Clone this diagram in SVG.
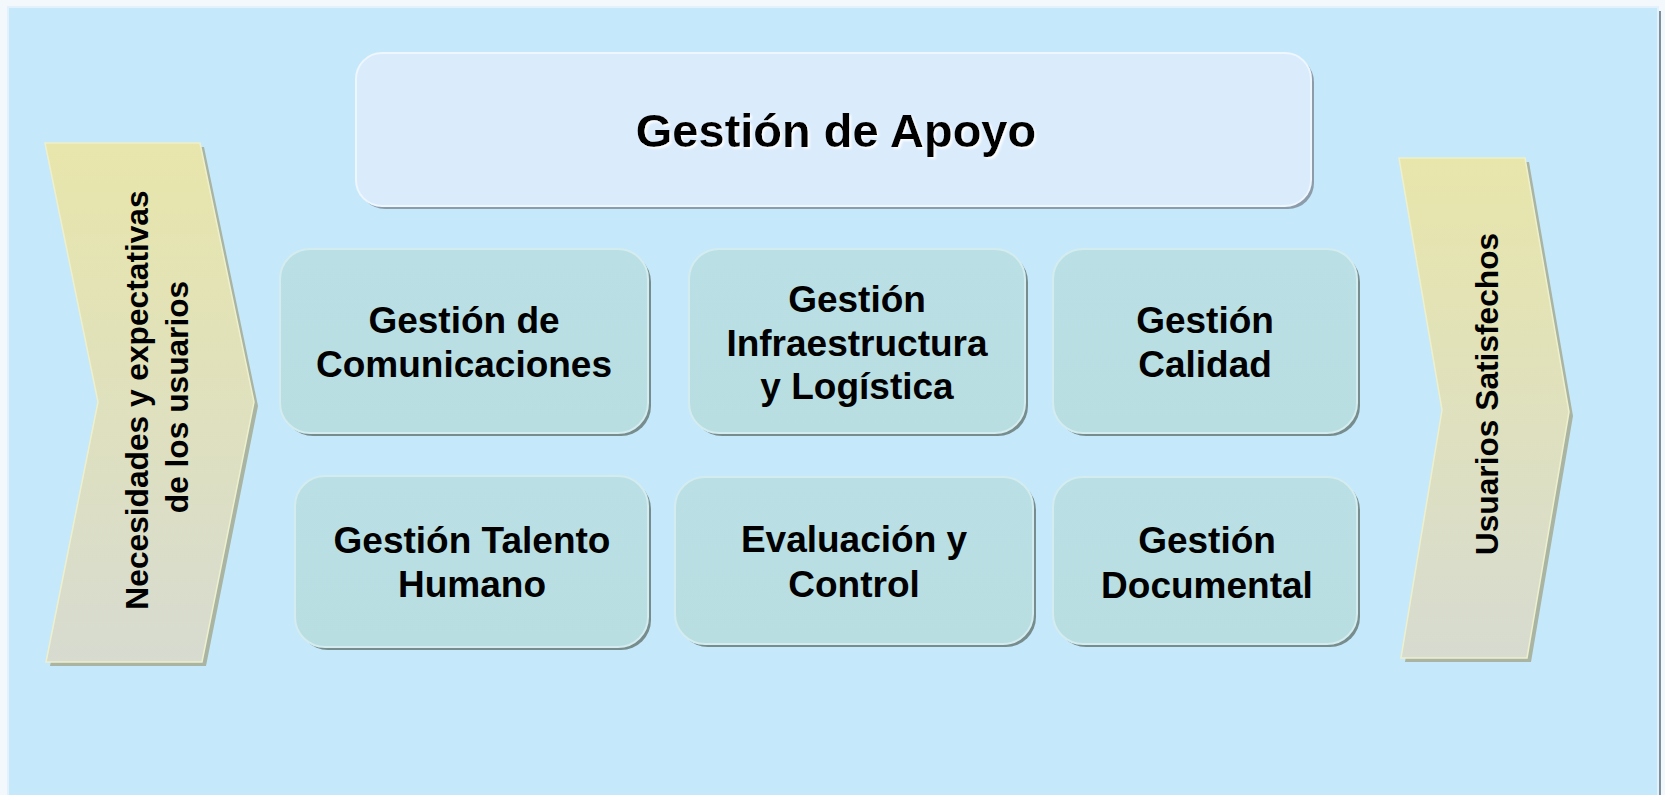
<svg xmlns="http://www.w3.org/2000/svg" width="1665" height="795" viewBox="0 0 1665 795">
<defs>
<linearGradient id="chev" x1="0" y1="0" x2="0" y2="1">
<stop offset="0" stop-color="#e8e6ab"/>
<stop offset="1" stop-color="#d7dbd0"/>
</linearGradient>
<linearGradient id="boxg" x1="0" y1="0" x2="0" y2="1">
<stop offset="0" stop-color="#bae0e5"/>
<stop offset="1" stop-color="#b8dee2"/>
</linearGradient>
<filter id="tshadow" x="-5%" y="-20%" width="110%" height="140%">
<feOffset in="SourceAlpha" dx="2" dy="2" result="o"/>
<feFlood flood-color="#ffffff" flood-opacity="0.9"/>
<feComposite in2="o" operator="in" result="s"/>
<feGaussianBlur in="s" stdDeviation="0.8" result="b"/>
<feMerge><feMergeNode in="b"/><feMergeNode in="SourceGraphic"/></feMerge>
</filter>
</defs>
<style>
text{font-family:"Liberation Sans",Arial,sans-serif;font-weight:bold;fill:#000;text-anchor:middle}
.box{fill:url(#boxg);stroke:#d4ecef;stroke-width:2}
.boxsh{fill:#778c8c}
.lbl{font-size:37px}
.chev{fill:url(#chev);stroke:#eef0cc;stroke-width:1.5}
.chevsh{fill:#a9b4a2}
.side{font-size:31.7px}
</style>
<rect x="0" y="0" width="1665" height="795" fill="#f3f8fd"/>
<rect x="12" y="11" width="1649" height="800" fill="#7c8f9c"/>
<rect x="8" y="7" width="1650" height="800" fill="#c5e8fb" stroke="#e2f1fc" stroke-width="2"/>

<g id="gestion-apoyo">
<rect x="359" y="56" width="955" height="153" rx="26" fill="#8d9cab"/>
<rect x="356" y="53" width="955" height="153" rx="26" fill="#daebfc" stroke="#eef6fe" stroke-width="2"/>
<text x="836" y="147" font-size="47" filter="url(#tshadow)">Gestión de Apoyo</text>
</g>

<g id="necesidades">
<polygon class="chevsh" points="49,147 204,147 258,406 206,666 50,666 102,406"/>
<polygon class="chev" points="45,143 200,143 254,402 202,662 46,662 98,402"/>
<text class="side" transform="translate(148,400) rotate(-90)">Necesidades y expectativas</text>
<text class="side" transform="translate(188,397) rotate(-90)">de los usuarios</text>
</g>

<g id="usuarios-satisfechos">
<polygon class="chevsh" points="1403,162 1529,162 1573,416 1531,662 1405,662 1446,414"/>
<polygon class="chev" points="1399,158 1525,158 1569,412 1527,658 1401,658 1442,410"/>
<text class="side" transform="translate(1498,394) rotate(-90)">Usuarios Satisfechos</text>
</g>

<g id="comunicaciones">
<rect class="boxsh" x="283" y="252" width="368" height="184" rx="30"/>
<rect class="box" x="280" y="249" width="368" height="184" rx="30"/>
<text class="lbl" x="464" y="333">Gestión de</text>
<text class="lbl" x="464" y="377">Comunicaciones</text>
</g>

<g id="infraestructura">
<rect class="boxsh" x="692" y="252" width="336" height="184" rx="30"/>
<rect class="box" x="689" y="249" width="336" height="184" rx="30"/>
<text class="lbl" x="857" y="312">Gestión</text>
<text class="lbl" x="857" y="356">Infraestructura</text>
<text class="lbl" x="857" y="399">y Logística</text>
</g>

<g id="calidad">
<rect class="boxsh" x="1056" y="252" width="304" height="184" rx="30"/>
<rect class="box" x="1053" y="249" width="304" height="184" rx="30"/>
<text class="lbl" x="1205" y="333">Gestión</text>
<text class="lbl" x="1205" y="377">Calidad</text>
</g>

<g id="talento-humano">
<rect class="boxsh" x="298" y="479" width="353" height="171" rx="30"/>
<rect class="box" x="295" y="476" width="353" height="171" rx="30"/>
<text class="lbl" x="472" y="553">Gestión Talento</text>
<text class="lbl" x="472" y="597">Humano</text>
</g>

<g id="evaluacion-control">
<rect class="boxsh" x="678" y="480" width="358" height="167" rx="30"/>
<rect class="box" x="675" y="477" width="358" height="167" rx="30"/>
<text class="lbl" x="854" y="552">Evaluación y</text>
<text class="lbl" x="854" y="597">Control</text>
</g>

<g id="documental">
<rect class="boxsh" x="1056" y="480" width="304" height="167" rx="30"/>
<rect class="box" x="1053" y="477" width="304" height="167" rx="30"/>
<text class="lbl" x="1207" y="553">Gestión</text>
<text class="lbl" x="1207" y="598">Documental</text>
</g>

<g id="connectors"/>
</svg>
